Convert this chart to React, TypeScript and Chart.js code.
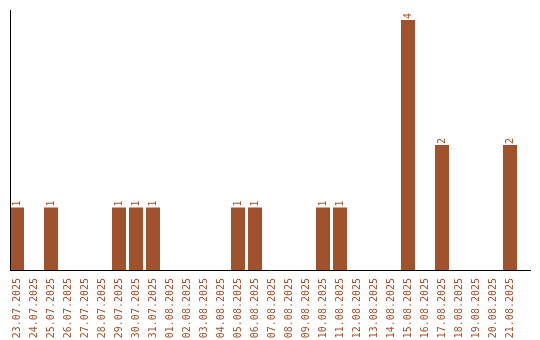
import React, { useEffect, useRef } from "react";
import { Chart, registerables } from "chart.js";

Chart.register(...registerables);

const categories = [
  "23.07.2025", "24.07.2025", "25.07.2025", "26.07.2025", "27.07.2025",
  "28.07.2025", "29.07.2025", "30.07.2025", "31.07.2025", "01.08.2025",
  "02.08.2025", "03.08.2025", "04.08.2025", "05.08.2025", "06.08.2025",
  "07.08.2025", "08.08.2025", "09.08.2025", "10.08.2025", "11.08.2025",
  "12.08.2025", "13.08.2025", "14.08.2025", "15.08.2025", "16.08.2025",
  "17.08.2025", "18.08.2025", "19.08.2025", "20.08.2025", "21.08.2025",
];

const counts = [
  1, 0, 1, 0, 0,
  0, 1, 1, 1, 0,
  0, 0, 0, 1, 1,
  0, 0, 0, 1, 1,
  0, 0, 0, 4, 0,
  2, 0, 0, 0, 2,
];

const BROWN = "#a0522d";
const FONT = "DejaVu Sans Mono";

const valueLabels = {
  id: "valueLabels",
  afterDatasetsDraw(chart: any) {
    const ctx = chart.ctx;
    const meta = chart.getDatasetMeta(0);
    ctx.save();
    ctx.fillStyle = BROWN;
    ctx.font = `10px "${FONT}"`;
    ctx.textAlign = "left";
    ctx.textBaseline = "middle";
    meta.data.forEach((el: any, i: number) => {
      const v = counts[i];
      if (!v) return;
      ctx.save();
      ctx.translate(el.x, el.y - 1);
      ctx.rotate(-Math.PI / 2);
      ctx.fillText(String(v), 0, 0);
      ctx.restore();
    });
    ctx.restore();
  },
};

const axisLines = {
  id: "axisLines",
  afterDraw(chart: any) {
    const ctx = chart.ctx;
    const { top, bottom } = chart.chartArea;
    ctx.save();
    ctx.strokeStyle = "#000";
    ctx.lineWidth = 1;
    ctx.beginPath();
    ctx.moveTo(10.5, top);
    ctx.lineTo(10.5, bottom + 1);
    ctx.moveTo(10, bottom + 0.5);
    ctx.lineTo(531, bottom + 0.5);
    ctx.stroke();
    ctx.restore();
  },
};

export default function App() {
  const ref = useRef<HTMLCanvasElement | null>(null);

  useEffect(() => {
    document.body.style.margin = "0";
    if (!ref.current) return;
    const chart = new Chart(ref.current, {
      type: "bar",
      data: {
        labels: categories,
        datasets: [
          {
            data: counts,
            backgroundColor: BROWN,
            borderWidth: 0,
            categoryPercentage: 1,
            barPercentage: 14 / 17,
          },
        ],
      },
      options: {
        animation: false,
        responsive: false,
        maintainAspectRatio: false,
        layout: { padding: { left: 8.5, right: 21.5, top: 10, bottom: 0 } },
        plugins: {
          legend: { display: false },
          tooltip: { enabled: false },
        },
        scales: {
          x: {
            grid: { display: false },
            border: { display: false },
            ticks: {
              color: BROWN,
              font: { family: FONT, size: 10 },
              minRotation: 90,
              maxRotation: 90,
              padding: 0,
              autoSkip: false,
            },
            afterFit: (scale: any) => {
              scale.height = 70;
            },
          },
          y: {
            display: false,
            min: 0,
            max: 4.16,
          },
        },
      },
      plugins: [valueLabels, axisLines],
    });
    return () => chart.destroy();
  }, []);

  return (
    <div style={{ width: 540, height: 340 }}>
      <canvas ref={ref} width={540} height={340} style={{ display: "block" }} />
    </div>
  );
}
